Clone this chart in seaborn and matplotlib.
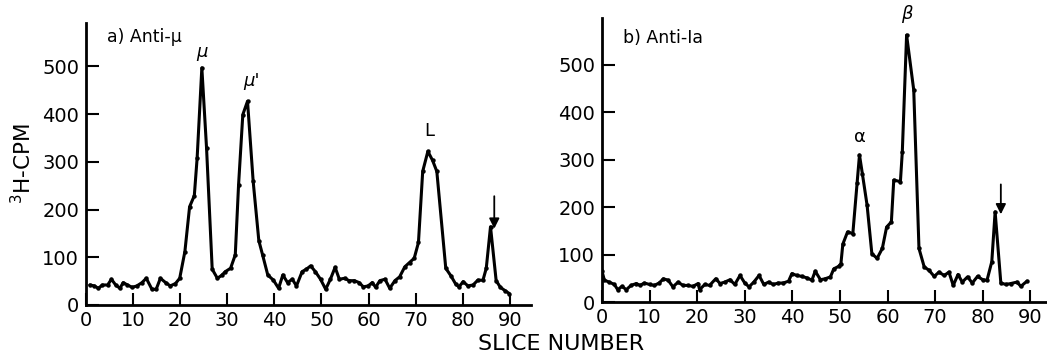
import numpy as np
import pandas as pd
import matplotlib
matplotlib.use("Agg")
import matplotlib.pyplot as plt
import seaborn as sns

# ---- data ----
slice_a = [0.8, 1.8, 2.6, 3.5, 4.6, 5.4, 6.3, 7.2, 7.9, 8.8, 9.8, 10.8, 11.9, 12.8, 14.0, 14.9,
           15.8, 16.9, 17.9, 19.0, 19.9, 21.0, 22.0, 23.0, 23.6, 24.6, 25.6, 26.8, 27.9, 28.8,
           29.6, 30.7, 31.7, 32.4, 33.3, 34.3, 35.5, 36.7, 37.5, 38.6, 39.8, 40.9, 41.8, 42.8,
           43.8, 44.7, 45.9, 46.8, 47.7, 48.7, 49.8, 50.9, 51.9, 52.9, 53.8, 54.9, 55.9, 57.0,
           58.0, 58.9, 59.9, 60.8, 61.5, 62.4, 63.5, 64.5, 65.6, 66.6, 67.7, 68.7, 69.7, 70.6,
           71.5, 72.6, 73.6, 74.5, 76.4, 77.5, 78.5, 79.2, 80.1, 81.1, 82.2, 83.2, 84.3, 85.0,
           85.9, 87.1, 88.0, 89.0, 89.9]
cpm_a = [42, 40, 35, 42, 42, 54, 42, 35, 47, 42, 37, 40, 47, 56, 33, 33,
         56, 47, 40, 45, 56, 112, 206, 229, 308, 497, 329, 75, 56, 62,
         70, 77, 105, 252, 399, 427, 259, 135, 105, 63, 52, 35, 63, 47,
         54, 40, 70, 75, 82, 70, 54, 33, 54, 79, 54, 56, 51, 51,
         47, 38, 40, 47, 37, 51, 54, 35, 51, 59, 80, 89, 98, 131,
         280, 322, 303, 280, 77, 61, 44, 38, 49, 40, 42, 52, 52, 77,
         164, 51, 37, 30, 24]

slice_b = [0.0, 0.5, 1.5, 2.6, 3.3, 4.2, 5.1, 6.1, 7.2, 8.0, 8.9, 10.0, 11.0, 12.0, 12.9, 13.9,
           14.9, 16.0, 17.0, 18.0, 19.1, 20.2, 20.5, 21.6, 22.6, 23.9, 24.8, 25.8, 26.9, 27.9,
           29.0, 30.0, 30.9, 31.9, 33.0, 34.0, 35.0, 36.0, 37.0, 38.1, 39.2, 39.9, 40.9, 42.0,
           43.0, 44.1, 44.8, 45.9, 46.9, 48.0, 48.7, 49.7, 50.2, 50.6, 51.6, 52.7, 53.6, 54.1,
           54.7, 55.7, 56.7, 57.8, 58.9, 59.8, 60.8, 61.3, 62.7, 63.1, 64.0, 65.5, 66.6, 67.7,
           68.7, 69.8, 70.8, 71.9, 72.9, 73.8, 74.8, 75.7, 76.8, 77.8, 78.9, 80.0, 80.9, 81.9,
           82.6, 83.8, 84.9, 85.9, 87.2, 88.0, 89.3]
cpm_b = [65, 46, 42, 37, 26, 33, 26, 35, 39, 35, 40, 37, 35, 40, 49, 46,
         32, 42, 35, 35, 33, 39, 26, 37, 35, 49, 39, 42, 47, 37,
         56, 40, 32, 42, 56, 37, 42, 37, 40, 40, 44, 60, 56, 54,
         51, 46, 65, 47, 49, 53, 70, 75, 81, 122, 148, 144, 251, 310,
         271, 204, 102, 92, 113, 158, 169, 257, 254, 317, 563, 447, 113, 74,
         67, 54, 63, 56, 63, 35, 58, 42, 53, 40, 54, 47, 46, 85,
         190, 40, 37, 39, 42, 33, 44]

x_ticks = [0, 10, 20, 30, 40, 50, 60, 70, 80, 90]
x_ticklabels = ["0", "10", "20", "30", "40", "50", "60", "70", "80", "90"]
y_ticks = [0, 100, 200, 300, 400, 500]
y_ticklabels = ["0", "100", "200", "300", "400", "500"]

panel_titles = ["a) Anti-\u03bc", "b) Anti-Ia"]
peak_labels_a = [("\u03bc", 24.6, 512, "italic"), ("\u03bc'", 35.2, 450, "italic"),
                 ("L", 72.8, 345, "normal")]
peak_labels_b = [("\u03b1", 54.3, 330, "normal"), ("\u03b2", 64.0, 588, "italic")]
arrow_a = (86.7, 228, 160)
arrow_b = (83.8, 248, 185)

# ---- style ----
sns.set_style("ticks")
plt.rcParams['font.family'] = ['DejaVu Sans']
plt.rcParams['text.color'] = 'black'

fig = plt.figure(figsize=(10.47, 3.56), dpi=100)
ax_a = fig.add_axes([86 / 1047, 51 / 356, 445 / 1047, 282 / 356])
ax_b = fig.add_axes([602 / 1047, 54 / 356, 445 / 1047, 284 / 356])

df_a = pd.DataFrame({"slice": slice_a, "cpm": cpm_a})
df_b = pd.DataFrame({"slice": slice_b, "cpm": cpm_b})

for ax, df, ylim, xlim in [(ax_a, df_a, 591, 94.5), (ax_b, df_b, 599, 93.5)]:
    sns.lineplot(data=df, x="slice", y="cpm", ax=ax, color="black", lw=2.2,
                 marker="o", markersize=3.2, markeredgewidth=0, estimator=None, sort=False)
    ax.set_xlim(0, xlim)
    ax.set_ylim(0, ylim)
    ax.set_xticks(x_ticks)
    ax.set_xticklabels(x_ticklabels)
    ax.set_yticks(y_ticks)
    ax.set_yticklabels(y_ticklabels)
    ax.tick_params(direction="in", length=9, width=1.5, labelsize=14, pad=5, color="black",
                   labelcolor="black")
    ax.tick_params(axis="x", pad=4)
    for s in ["top", "right"]:
        ax.spines[s].set_visible(False)
    for s in ["left", "bottom"]:
        ax.spines[s].set_linewidth(2.0)
        ax.spines[s].set_color("black")
    ax.set_xlabel("")
    ax.set_ylabel("")
    ax.set_facecolor("white")

ax_a.text(4.5, 562, panel_titles[0], fontsize=12.5, ha="left", va="center")
ax_b.text(4.4, 557, panel_titles[1], fontsize=12.5, ha="left", va="center")

for lab, x, y, st in peak_labels_a:
    ax_a.text(x, y, lab, fontsize=13, ha="center", va="bottom", style=st, clip_on=False)
for lab, x, y, st in peak_labels_b:
    ax_b.text(x, y, lab, fontsize=13, ha="center", va="bottom", style=st, clip_on=False)

for ax, (ax_x, y0, y1) in [(ax_a, arrow_a), (ax_b, arrow_b)]:
    ax.annotate("", xy=(ax_x, y1), xytext=(ax_x, y0),
                arrowprops=dict(arrowstyle="-|>", color="black", lw=1.3, mutation_scale=15,
                                shrinkA=0, shrinkB=0))

fig.text(23 / 1047, 1 - 164 / 356, "$^{3}$H-CPM", rotation=90, fontsize=15.5,
         ha="center", va="center")
fig.text(561 / 1047, 1 - 344 / 356, "SLICE NUMBER", fontsize=16, ha="center", va="center")

fig.savefig("out.png", dpi=100, facecolor="white")
